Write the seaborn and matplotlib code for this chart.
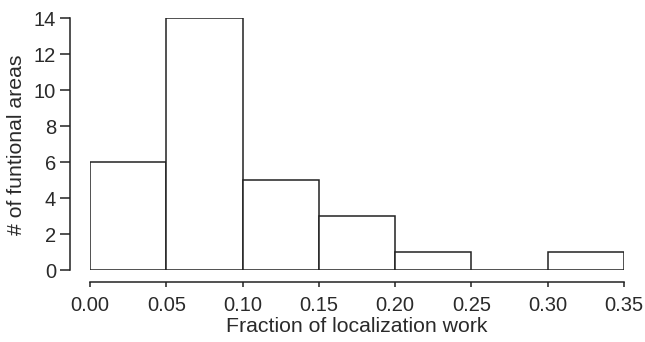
import matplotlib
matplotlib.use("Agg")
import matplotlib.pyplot as plt
import seaborn as sns
import numpy as np

bin_edges = [0.00, 0.05, 0.10, 0.15, 0.20, 0.25, 0.30, 0.35]
counts = [6, 14, 5, 3, 1, 0, 1]
x_ticks = [0.00, 0.05, 0.10, 0.15, 0.20, 0.25, 0.30, 0.35]
y_ticks = [0, 2, 4, 6, 8, 10, 12, 14]

sns.set_style("ticks")
plt.rcParams['font.family'] = ['Liberation Sans', 'DejaVu Sans']

W, H = 645, 342
fig = plt.figure(figsize=(W / 100, H / 100), dpi=100)
ax = fig.add_axes([90 / W, 1 - 270 / H, (624 - 90) / W, (270 - 18) / H])

centers = [(a + b) / 2 for a, b in zip(bin_edges[:-1], bin_edges[1:])]
sns.histplot(x=centers, weights=counts, bins=bin_edges, ax=ax,
             color="white", edgecolor="#222222", linewidth=1.1, alpha=1)

ax.set_xlim(0, 0.35)
ax.set_ylim(0, 14)
ax.set_xticks(x_ticks)
ax.set_xticklabels([f"{v:.2f}" for v in x_ticks])
ax.set_yticks(y_ticks)
ax.set_yticklabels([str(v) for v in y_ticks])

for s in ["top", "right"]:
    ax.spines[s].set_visible(False)
ax.spines["left"].set_position(("outward", 14.4))
ax.spines["bottom"].set_position(("outward", 8.6))
for s in ["left", "bottom"]:
    ax.spines[s].set_color("#222222")
    ax.spines[s].set_linewidth(1.1)
ax.tick_params(direction="out", width=1.1, color="#222222",
               labelsize=14.5, labelcolor="#2a2a2a")
ax.tick_params(axis="y", length=7, pad=3)
ax.tick_params(axis="x", length=3.8, pad=6)

ax.set_xlabel("Fraction of localization work", fontsize=15.3, color="#2a2a2a")
ax.set_ylabel("# of funtional areas", fontsize=15.3, color="#2a2a2a")
ax.yaxis.set_label_coords(17 / W, (1 - 145 / H), transform=fig.transFigure)
ax.xaxis.set_label_coords(357 / W, 1 - 326 / H, transform=fig.transFigure)
ax.xaxis.label.set_va("center")
ax.yaxis.label.set_va("center")

fig.savefig("out.png", dpi=100)
